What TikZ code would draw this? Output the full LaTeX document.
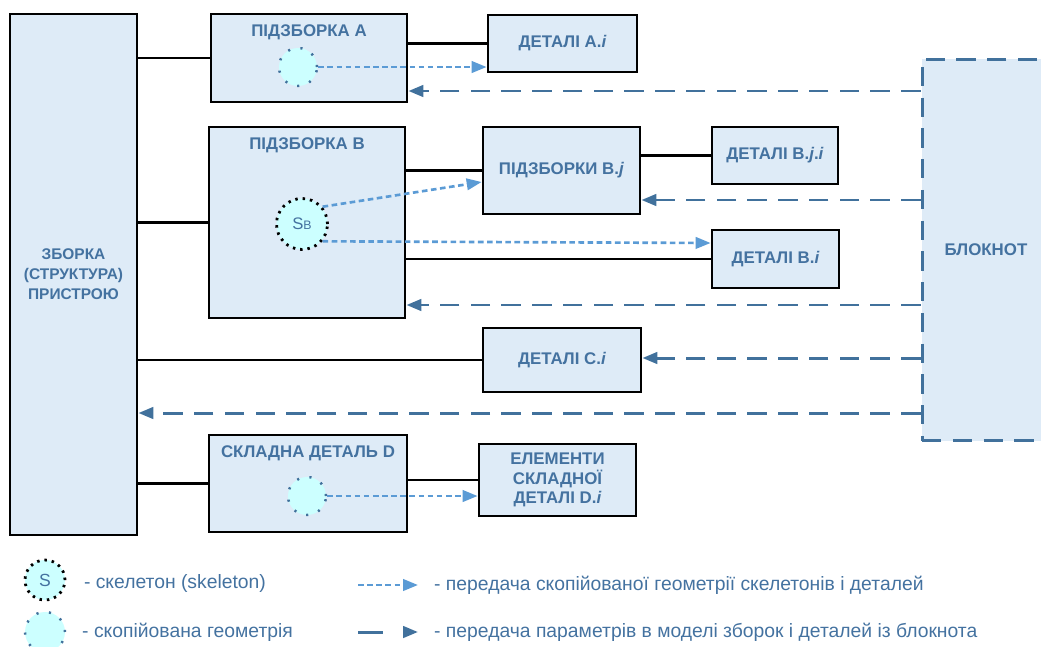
\documentclass[tikz,border=0pt]{standalone}
\usepackage{fontspec}
\setmainfont{Liberation Sans}
\usetikzlibrary{arrows.meta,positioning}
\definecolor{boxfill}{RGB}{222,235,247}
\definecolor{txtblue}{RGB}{68,114,160}
\definecolor{dashblue}{RGB}{65,113,156}
\definecolor{dotblue}{RGB}{91,155,213}
\definecolor{geomfill}{RGB}{204,255,255}

\tikzset{
  box/.style={draw=black, line width=1.6pt, fill=boxfill, inner sep=2pt,
    font=\fontsize{9.6}{11.3}\selectfont\bfseries, text=txtblue, align=center},
  title/.style={inner sep=0pt, font=\fontsize{9.6}{11.3}\selectfont\bfseries, text=txtblue},
  skel/.style={circle, draw=black, fill=geomfill, line width=1.6pt,
    dash pattern=on 1.4pt off 2.8pt, inner sep=0pt, text=txtblue},
  copygeo/.style={circle, draw=dashblue, fill=geomfill, line width=1.4pt,
    dash pattern=on 1.2pt off 6pt, inner sep=0pt},
  link/.style={draw=black, line width=1.6pt},
  geomarrow/.style={draw=dotblue, line width=1.5pt, dash pattern=on 3.2pt off 2pt,
    -{Triangle[length=8.5pt,width=6.5pt,fill=dotblue]}},
  paramarrow/.style={draw=dashblue, line width=1.7pt, dash pattern=on 11pt off 6.5pt,
    -{Triangle[length=8.5pt,width=6.5pt,fill=dashblue]}},
  legtext/.style={anchor=west, inner sep=0pt, text=txtblue, font=\fontsize{11}{13}\selectfont}
}

\begin{document}
\begin{tikzpicture}[x=0.02cm, y=-0.02cm]

\useasboundingbox (0,0) rectangle (1041,646);

% Notebook (drawn first, its right side runs off the page)
\node[draw=dashblue, fill=boxfill, line width=1.7pt, dash pattern=on 11pt off 6.5pt,
  minimum width=2.56cm, minimum height=7.64cm, font=\fontsize{9.6}{11.3}\selectfont\bfseries,
  text=txtblue] (bl) at (986,250) {БЛОКНОТ};

% Main assembly
\node[box, minimum width=2.54cm, minimum height=10.42cm,
  font=\fontsize{8.8}{11.3}\selectfont\bfseries] (main) at (73.5,274.5)
  {ЗБОРКА\\(СТРУКТУРА)\\ПРИСТРОЮ};

% Subassembly A
\node[box, minimum width=3.92cm, minimum height=1.76cm] (pa) at (309,58) {};
\node[title, below=11pt of pa.north, anchor=center] {ПІДЗБОРКА A};
\node[copygeo, minimum size=0.76cm] (sa) at (298,67) {};
\node[box, minimum width=2.98cm, minimum height=1.14cm] (da) at (562.5,43.5) {ДЕТАЛІ A.\textit{i}};

% Subassembly B
\node[box, minimum width=3.92cm, minimum height=3.82cm] (pb) at (307,222.5) {};
\node[title, below=11pt of pb.north, anchor=center] {ПІДЗБОРКА B};
\node[skel, minimum size=1.02cm, font=\fontsize{9.5}{11}\selectfont] (sb) at (302,224) {S{\fontsize{7}{8}\selectfont B}};
\node[box, minimum width=3.14cm, minimum height=1.74cm] (bj) at (561.5,170.5) {ПІДЗБОРКИ B.\textit{j}};
\node[box, minimum width=2.52cm, minimum height=1.14cm] (bji) at (775,155.5) {ДЕТАЛІ B.\textit{j}.\textit{i}};
\node[box, minimum width=2.54cm, minimum height=1.16cm] (bi) at (775.5,259) {ДЕТАЛІ B.\textit{i}};

% Parts C
\node[box, minimum width=3.16cm, minimum height=1.28cm] (ci) at (562,360) {ДЕТАЛІ C.\textit{i}};

% Complex part D
\node[box, minimum width=3.96cm, minimum height=1.94cm] (pd) at (308,483.5) {};
\node[title, below=11pt of pd.north, anchor=center] {СКЛАДНА ДЕТАЛЬ D};
\node[copygeo, minimum size=0.76cm] (sd) at (307,496) {};
\node[box, minimum width=3.14cm, minimum height=1.44cm] (el) at (557.5,480)
  {ЕЛЕМЕНТИ\\СКЛАДНОЇ\\ДЕТАЛІ D.\textit{i}};

% Structure links
\draw[link] (pa.west -| main.east) -- (pa.west);
\draw[link] (da.west -| pa.east) -- (da.west);
\draw[link] (pb.west -| main.east) -- (pb.west);
\draw[link] (bj.west -| pb.east) -- (bj.west);
\draw[link] (bji.west -| bj.east) -- (bji.west);
\draw[link] (bi.west -| pb.east) -- (bi.west);
\draw[link] (ci.west -| main.east) -- (ci.west);
\draw[link] (pd.west -| main.east) -- (pd.west);
\draw[link] (el.west -| pd.east) -- (el.west);

% Copied geometry
\draw[geomarrow] (sa.east) -- (da.west |- sa.east);
\draw[geomarrow] (sb.40) -- ([yshift=-0.23cm]bj.west);
\draw[geomarrow] (sb.-40) -- ([yshift=0.32cm]bi.west);
\draw[geomarrow] (sd.east) -- (el.west |- sd.east);

% Parameters from the notebook
\coordinate (rowA) at (0,91);
\coordinate (rowBj) at (0,200);
\coordinate (rowB) at (0,305);
\coordinate (rowC) at (0,358);
\coordinate (rowM) at (0,413);
\foreach \row/\target in {
rowA/pa,
rowBj/bj,
rowB/pb,
rowC/ci,
rowM/main}{
\draw[paramarrow] (bl.west |- \row) -- (\target.east |- \row);
}

% Legend
\node[skel, minimum size=0.8cm, font=\fontsize{10}{12}\selectfont] (lgs) at (45,580) {S};
\node[legtext, right=22pt of lgs.center, yshift=-0.06cm] (lgst) {- скелетон (skeleton)};
\node[copygeo, minimum size=0.8cm] (lgc) at (45,632) {};
\node[legtext, right=21pt of lgc.center] (lgct) {- скопійована геометрія};

\coordinate (lgda) at (358,585);
\coordinate (lgdb) at (418,585);
\draw[geomarrow] (lgda) -- (lgdb);
\node[legtext, right=9pt of lgdb] (lgdt) {- передача скопійованої геометрії скелетонів і деталей};

\coordinate (lgpa) at (358,632);
\coordinate (lgpb) at (418,632);
\draw[paramarrow, dash pattern=on 14pt off 40pt] (lgpa) -- (lgpb);
\node[legtext, right=9pt of lgpb] (lgpt) {- передача параметрів в моделі зборок і деталей із блокнота};

\end{tikzpicture}
\end{document}
